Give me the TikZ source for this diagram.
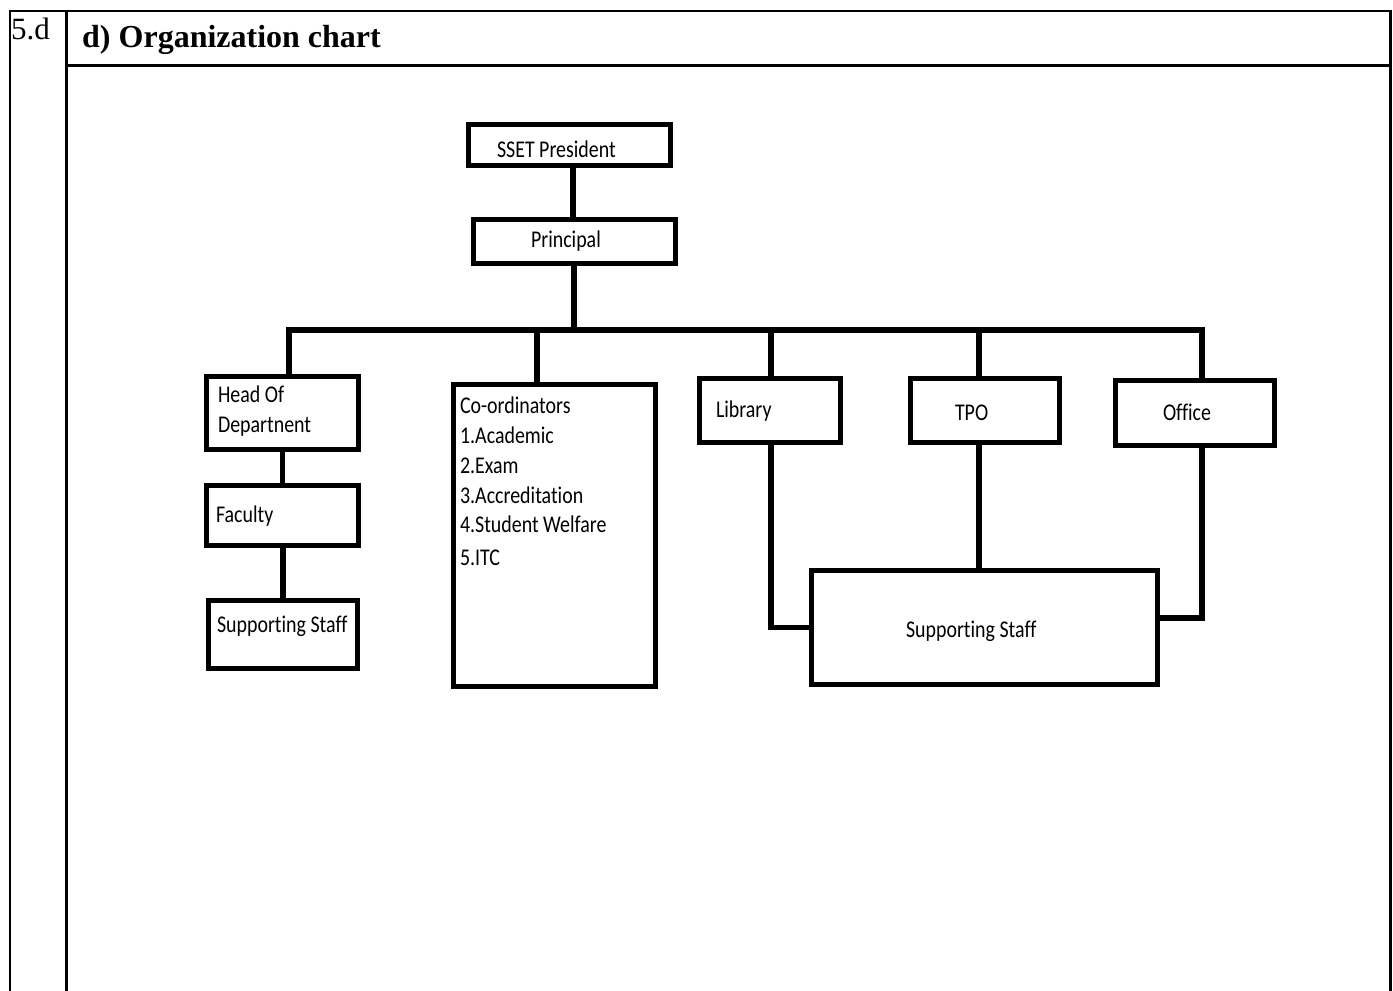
\documentclass[tikz,border=0pt]{standalone}
\usepackage{fontspec}
\setmainfont{Liberation Serif}
\newfontfamily\chartfont[FakeStretch=0.83,Ligatures=NoCommon]{Carlito}
\newfontfamily\headfont{Liberation Serif}
\newfontfamily\numfont{Liberation Serif}
\begin{document}
\begin{tikzpicture}[x=1pt,y=-1pt,
  box/.style={draw=black, line width=5.5pt, rectangle, inner sep=0pt, outer sep=0pt, fill=white},
  conn/.style={draw=black, line width=5.5pt, line join=miter},
  frame/.style={draw=black, line width=2.2pt},
  lbl/.style={anchor=base west, inner sep=0pt, outer sep=0pt, font=\chartfont\fontsize{24}{28}\selectfont}
]
\useasboundingbox (0,0) rectangle (1393,991);
\fill[white] (0,0) rectangle (1393,991);

% table frame
\draw[frame] (10,991) -- (10,11) -- (1390.5,11) -- (1390.5,991);
\draw[frame] (66.5,11) -- (66.5,991);
\draw[frame] (66.5,65.5) -- (1390.5,65.5);
\node[anchor=base west, inner sep=0pt, font=\numfont\fontsize{31}{35}\selectfont] (num) at (11,39) {5.d};
\node[anchor=base west, inner sep=0pt, font=\headfont\bfseries\fontsize{32}{36}\selectfont] (head) at (82,47) {d) Organization chart};

% boxes
\node[box, minimum width=202pt, minimum height=41pt] (pres) at (569.5,145) {};
\node[box, minimum width=202pt, minimum height=44pt] (princ) at (574.5,241.5) {};
\node[box, minimum width=152pt, minimum height=73pt] (hod) at (282.5,413) {};
\node[box, minimum width=152pt, minimum height=60pt] (fac) at (282.5,515.5) {};
\node[box, minimum width=149pt, minimum height=68pt] (ssa) at (283,634.5) {};
\node[box, minimum width=202pt, minimum height=302pt] (coord) at (554.5,535.5) {};
\node[box, minimum width=141pt, minimum height=64pt] (lib) at (770,410.5) {};
\node[box, minimum width=149pt, minimum height=64pt] (tpo) at (985,410.5) {};
\node[box, minimum width=159pt, minimum height=65pt] (off) at (1195,413) {};
\node[box, minimum width=346pt, minimum height=114pt] (ssb) at (984.5,627.5) {};

% coordinates for connector lines
\coordinate (xa) at (573,0);
\coordinate (bus) at (574,330);
\coordinate (bL) at (289,330);
\coordinate (bR) at (1202,330);
\coordinate (bC) at (537,330);
\coordinate (bLib) at (771,330);
\coordinate (bT) at (979,330);
\coordinate (oj) at (1202,618);

% connectors
\draw[conn] (pres.south -| xa) -- (princ.north -| xa);
\draw[conn] (princ.south -| bus) -- (bus);
\draw[conn] (hod.north -| bL) -- (bL) -- (bR) -- (off.north -| bR);
\draw[conn] (bC) -- (coord.north -| bC);
\draw[conn] (bLib) -- (lib.north -| bLib);
\draw[conn] (bT) -- (tpo.north -| bT);
\draw[conn] (hod.south) -- (fac.north);
\draw[conn] (fac.south -| ssa.north) -- (ssa.north);
\draw[conn] (lib.south -| bLib) |- (ssb.west);
\draw[conn] (tpo.south -| bT) -- (ssb.north -| bT);
\draw[conn] (off.south -| bR) -- (oj) -- (ssb.east |- oj);

% labels
\node[lbl] (tpres) at (497,157) {SSET President};
\node[lbl] (tprinc) at (531,247) {Principal};
\node[lbl] (thod1) at (218,402) {Head Of};
\node[lbl] (thod2) at (218,432) {Departnent};
\node[lbl] (tfac) at (216,522) {Faculty};
\node[lbl] (tssa) at (217,632) {Supporting Staff};
\node[lbl] (tc0) at (460,413) {Co-ordinators};
\node[lbl] (tc1) at (460,443) {1.Academic};
\node[lbl] (tc2) at (460,473) {2.Exam};
\node[lbl] (tc3) at (460,503) {3.Accreditation};
\node[lbl] (tc4) at (460,532) {4.Student Welfare};
\node[lbl] (tc5) at (460,565) {5.ITC};
\node[lbl] (tlib) at (716,417) {Library};
\node[lbl] (ttpo) at (955,420) {TPO};
\node[lbl] (toff) at (1163,420) {Office};
\node[lbl] (tssb) at (906,637) {Supporting Staff};
\end{tikzpicture}
\end{document}
